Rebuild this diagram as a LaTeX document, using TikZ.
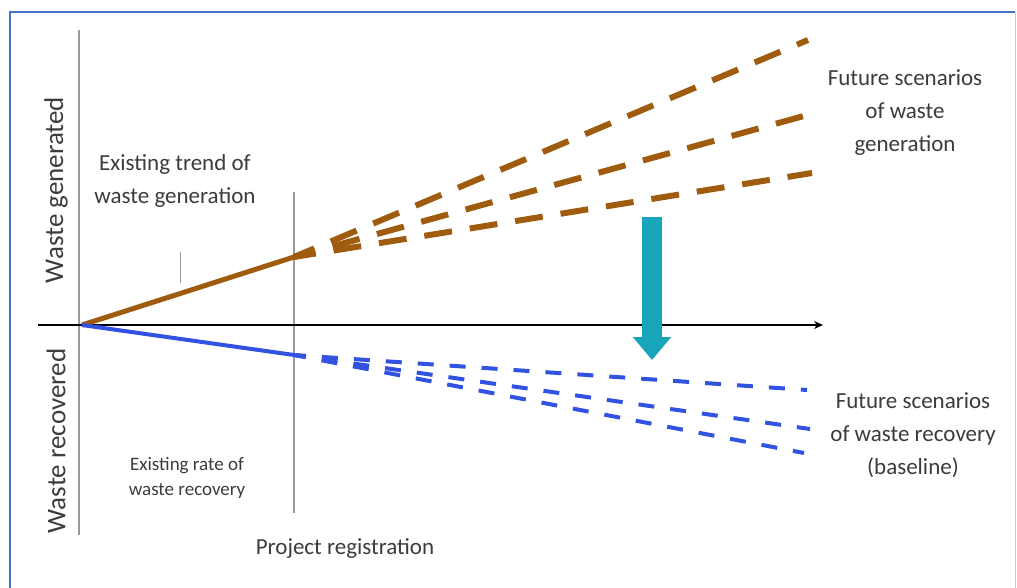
\documentclass[tikz,border=0pt]{standalone}
\usepackage{fontspec}
\setmainfont{Carlito}
\usetikzlibrary{arrows.meta}
\definecolor{frameblue}{RGB}{70,115,200}
\definecolor{brownline}{RGB}{160,92,14}
\definecolor{blueline}{RGB}{50,82,225}
\definecolor{tealarrow}{RGB}{24,165,186}
\definecolor{txt}{RGB}{60,60,60}
\tikzset{
  lbl/.style={text=txt, align=center, inner sep=0pt, font=\fontsize{23}{33}\selectfont},
  small/.style={text=txt, align=center, inner sep=0pt, font=\fontsize{19}{25}\selectfont},
  axlbl/.style={text=txt, inner sep=0pt, rotate=90, font=\fontsize{27}{30}\selectfont},
  guide/.style={draw=gray!80, line width=1.2pt},
  gensolid/.style={draw=brownline, line width=5pt},
  gendash/.style={draw=brownline, line width=6pt, dash pattern=on 28pt off 18pt, dash phase=6pt},
  recsolid/.style={draw=blueline, line width=4pt},
  recdash/.style={draw=blueline, line width=4pt, dash pattern=on 16pt off 16pt, dash phase=4pt},
}
\begin{document}
\begin{tikzpicture}[x=1pt,y=-1pt]
\useasboundingbox (0,0) rectangle (1017,588);
\fill[white] (0,0) rectangle (1017,588);
% frame
\draw[frameblue, line width=1.6pt] (10,600) -- (10,12) -- (1015,12);
\draw[gray!40, line width=1pt] (1015,12) -- (1015,600);
% guides
\coordinate (vtop) at (79,30);
\coordinate (vbot) at (79,535);
\draw[guide] (vtop) -- (vbot);
\coordinate (ptop) at (294,192);
\coordinate (pbot) at (294,513);
\draw[guide] (ptop) -- (pbot);
\coordinate (ttop) at (180,252);
\coordinate (tbot) at (180,283);
\draw[guide, line width=0.8pt] (ttop) -- (tbot);
% axis
\coordinate (xstart) at (38,325);
\coordinate (xend) at (823,325);
\draw[black, line width=2.4pt, -{Stealth[length=9pt,width=8pt]}] (xstart) -- (xend);
% key points
\coordinate (O) at (82,325);
\coordinate (G) at (294,257);
\coordinate (R) at (294,355);
\coordinate (g1) at (808,40);
\coordinate (g2) at (811,114);
\coordinate (g3) at (812,173);
\coordinate (r1) at (807,390);
\coordinate (r2) at (810,429);
\coordinate (r3) at (804,453);
% generation
\draw[gensolid] (O) -- (G);
\draw[gendash] (G) -- (g1);
\draw[gendash] (G) -- (g2);
\draw[gendash] (G) -- (g3);
% recovery
\draw[recsolid] (O) -- (R);
\draw[recdash] (R) -- (r1);
\draw[recdash] (R) -- (r2);
\draw[recdash] (R) -- (r3);
% teal arrow
\coordinate (atop) at (652,217);
\coordinate (abot) at (652,360);
\draw[tealarrow, line width=20pt, -{Triangle[width=37pt,length=23pt]}] (atop) -- (abot);
% labels
\node[axlbl] (wg) at (56,190) {Waste generated};
\node[axlbl] (wr) at (56,441) {Waste recovered};
\node[lbl] (trend) at (175,181) {Existing trend of\\waste generation};
\node[small] (rate) at (187,478) {Existing rate of\\waste recovery};
\node[lbl] (proj) at (345,549) {Project registration};
\node[lbl] (fgen) at (905,113) {Future scenarios\\of waste\\generation};
\node[lbl] (frec) at (913,435) {Future scenarios\\of waste recovery\\(baseline)};
\end{tikzpicture}
\end{document}
